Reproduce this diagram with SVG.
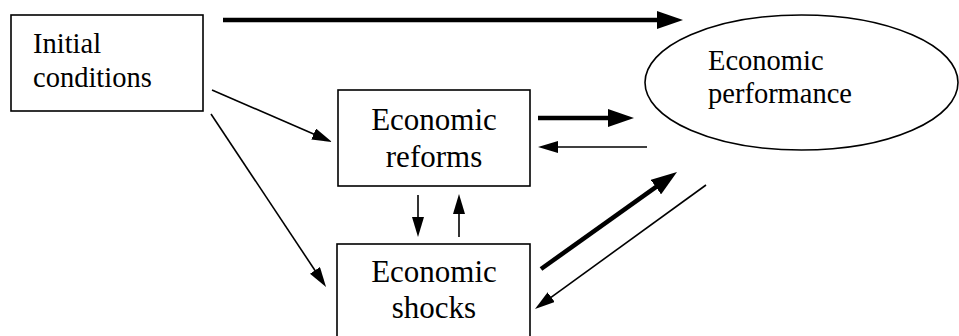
<svg xmlns="http://www.w3.org/2000/svg" width="959" height="336" viewBox="0 0 959 336">
<style>
.box{fill:#fff;stroke:#000;stroke-width:1.6}
.t{font-family:"Liberation Serif","Times New Roman",serif;fill:#000}
.s{font-size:28.5px}
.b{font-size:31px}
.thin{stroke:#000;stroke-width:1.6;fill:none}
.thick{stroke:#000;stroke-width:4.5;fill:none}
</style>
<defs>
<marker id="hThick" markerUnits="userSpaceOnUse" markerWidth="26" markerHeight="18" refX="12" refY="9" orient="auto">
<path d="M0,0 L26,9 L0,18 z" fill="#000"/>
</marker>
<marker id="hThin" markerUnits="userSpaceOnUse" markerWidth="20" markerHeight="12" refX="10" refY="6" orient="auto">
<path d="M0,0 L20,6 L0,12 z" fill="#000"/>
</marker>
</defs>
<rect width="959" height="336" fill="#fff"/>
<g id="initial">
<rect class="box" x="11" y="15" width="192" height="96"/>
<text class="t s" x="33" y="53">Initial</text>
<text class="t s" x="33" y="87">conditions</text>
</g>
<g id="performance">
<ellipse class="box" cx="801.5" cy="82.5" rx="156.5" ry="67.5"/>
<text class="t s" x="708" y="70">Economic</text>
<text class="t s" x="708" y="103">performance</text>
</g>
<g id="reforms">
<rect class="box" x="338" y="90" width="192" height="96"/>
<text class="t b" x="434" y="130" text-anchor="middle">Economic</text>
<text class="t b" x="434" y="167" text-anchor="middle">reforms</text>
</g>
<g id="shocks">
<rect class="box" x="337" y="244" width="193" height="100"/>
<text class="t b" x="434" y="282" text-anchor="middle">Economic</text>
<text class="t b" x="434" y="318" text-anchor="middle">shocks</text>
</g>
<g id="connectors">
<line class="thick" x1="223" y1="20" x2="669" y2="20" marker-end="url(#hThick)"/>
<line class="thin" x1="212" y1="90" x2="322.8" y2="138" marker-end="url(#hThin)"/>
<line class="thin" x1="211" y1="114" x2="320.5" y2="278.7" marker-end="url(#hThin)"/>
<line class="thick" x1="538" y1="118" x2="620" y2="118" marker-end="url(#hThick)"/>
<line class="thin" x1="647" y1="147" x2="548" y2="147" marker-end="url(#hThin)"/>
<line class="thin" x1="418" y1="195" x2="418" y2="227" marker-end="url(#hThin)"/>
<line class="thin" x1="459" y1="237" x2="459" y2="204" marker-end="url(#hThin)"/>
<line class="thick" x1="541" y1="269" x2="665.6" y2="180.1" marker-end="url(#hThick)"/>
<line class="thin" x1="706" y1="185" x2="543.1" y2="303.1" marker-end="url(#hThin)"/>
</g>
</svg>
